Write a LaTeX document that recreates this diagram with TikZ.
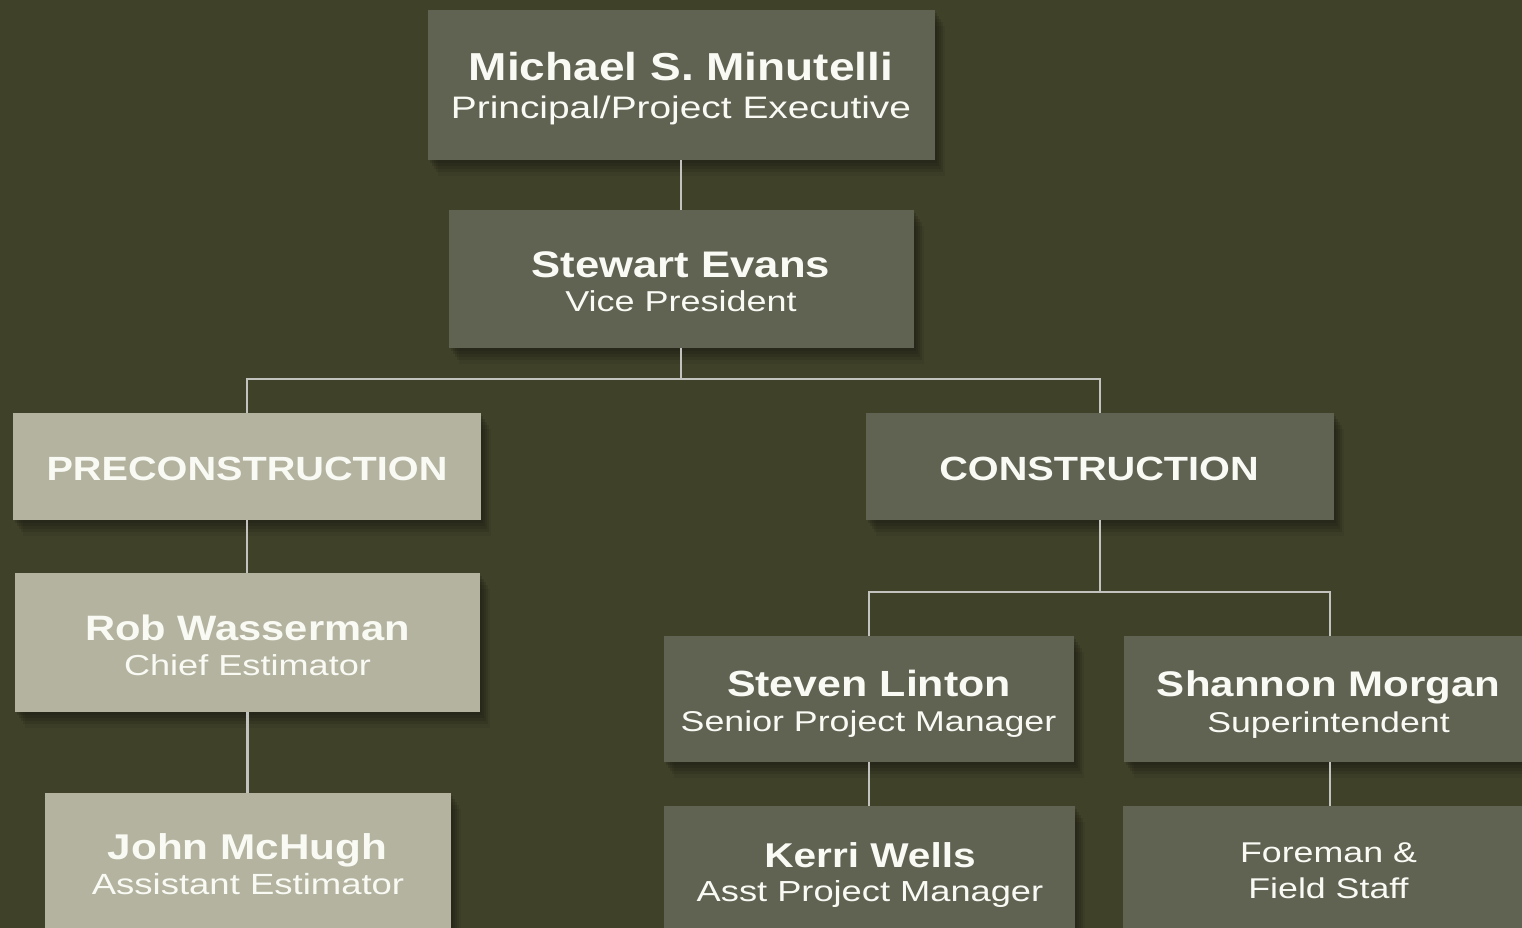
\documentclass[tikz,border=0pt]{standalone}
\usepackage{fontspec}
\setmainfont{Liberation Sans}
\newfontfamily\nmf{Liberation Sans}[FakeStretch=1.18]
\newfontfamily\stf{Liberation Sans}[FakeStretch=1.25]
\usetikzlibrary{shadows}
\definecolor{bg}{HTML}{404129}
\definecolor{darkbox}{HTML}{606252}
\definecolor{lightbox}{HTML}{B3B39F}
\definecolor{linec}{HTML}{C2C2BE}
\definecolor{shad}{HTML}{1A1A12}
\definecolor{txt}{HTML}{FAFAF5}
\begin{document}
\begin{tikzpicture}[x=1pt,y=-1pt,
  boxbase/.style={rectangle, draw=none, inner sep=0pt, outer sep=0pt,
    general shadow={fill=shad, opacity=0.20, shadow xshift=2pt, shadow yshift=-3pt},
    general shadow={fill=shad, opacity=0.20, shadow xshift=4pt, shadow yshift=-6pt},
    general shadow={fill=shad, opacity=0.18, shadow xshift=6pt, shadow yshift=-9pt},
    general shadow={fill=shad, opacity=0.15, shadow xshift=8pt, shadow yshift=-12pt},
    general shadow={fill=shad, opacity=0.10, shadow xshift=10pt, shadow yshift=-16pt}},
  darkb/.style={boxbase, fill=darkbox},
  lightb/.style={boxbase, fill=lightbox},
  nm/.style={anchor=base, inner sep=0pt, text=txt, font=\nmf\bfseries\fontsize{#1}{#1}\selectfont},
  st/.style={anchor=base, inner sep=0pt, text=txt, font=\stf\fontsize{#1}{#1}\selectfont},
  conn/.style={draw=linec, line width=2.2pt}]
\useasboundingbox[fill=bg] (0,0) rectangle (1522,928);

% boxes
\node[darkb, minimum width=507pt, minimum height=150pt] (m) at (681,85) {};
\node[darkb, minimum width=465pt, minimum height=138pt] (s) at (681,279) {};
\node[lightb, minimum width=468pt, minimum height=107pt] (pre) at (247,466.5) {};
\node[darkb, minimum width=468pt, minimum height=107pt] (con) at (1100,466.5) {};
\node[lightb, minimum width=465pt, minimum height=139pt] (rob) at (247.5,642.5) {};
\node[lightb, minimum width=406pt, minimum height=139pt] (john) at (248,862.5) {};
\node[darkb, minimum width=410pt, minimum height=126pt] (sl) at (869,699) {};
\node[darkb, minimum width=411pt, minimum height=126pt] (kw) at (869.5,869) {};
\node[darkb, minimum width=412pt, minimum height=126pt] (sm) at (1330,699) {};
\node[darkb, minimum width=413pt, minimum height=126pt] (ff) at (1329.5,869) {};

% texts
\node[nm=39] (mn) at (681,81) {Michael S. Minutelli};
\node[st=31.1] (mt) at (681,119) {Principal/Project Executive};
\node[nm=37] (sn) at (681,277) {Stewart Evans};
\node[st=28.8] (stt) at (681,311) {Vice President};
\node[nm=33.6] (pren) at (247,480) {PRECONSTRUCTION};
\node[nm=33.6] (conn) at (1099,480) {CONSTRUCTION};
\node[nm=35.3] (rn) at (247.5,640) {Rob Wasserman};
\node[st=28.9] (rt) at (247.5,675) {Chief Estimator};
\node[nm=35.8] (jn) at (247.5,859) {John McHugh};
\node[st=29.2] (jt) at (248,894) {Assistant Estimator};
\node[nm=36.4] (sln) at (869,696) {Steven Linton};
\node[st=28.6] (slt) at (868.5,731) {Senior Project Manager};
\node[nm=35.6] (smn) at (1328.5,696) {Shannon Morgan};
\node[st=28.6] (smt) at (1328.5,732) {Superintendent};
\node[nm=34.4] (kwn) at (870,867) {Kerri Wells};
\node[st=29] (kwt) at (870,901) {Asst Project Manager};
\node[st=28.6] (fft1) at (1328.5,862) {Foreman \&};
\node[st=28.6] (fft2) at (1328.5,898) {Field Staff};

% connectors
\coordinate (busA) at (681,379);
\coordinate (busB) at (1100,592);
\draw[conn] (m.south) -- (s.north);
\draw[conn] (s.south) -- (busA);
\draw[conn] (pre.north) |- (busA) -| (con.north);
\draw[conn] (pre.south) -- (pre.south |- rob.north);
\draw[conn] (rob.south) -- (rob.south |- john.north);
\draw[conn] (con.south) -- (busB);
\draw[conn] (sl.north) |- (busB) -| (sm.north);
\draw[conn] (sl.south) -- (sl.south |- kw.north);
\draw[conn] (sm.south) -- (sm.south |- ff.north);
\end{tikzpicture}
\end{document}
